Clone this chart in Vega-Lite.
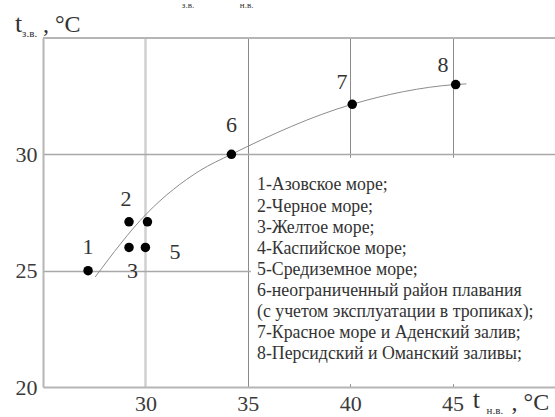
{
  "$schema": "https://vega.github.io/schema/vega-lite/v6.json",
  "width": 512,
  "height": 349,
  "autosize": {"type": "none"},
  "padding": {"left": 43, "top": 38, "right": 0, "bottom": 30},
  "background": "white",
  "config": {
    "view": {"stroke": null},
    "font": "Liberation Serif",
    "text": {"font": "Liberation Serif"}
  },
  "datasets": {
    "curve": [
      {"x": 27.55, "y": 24.73},
      {"x": 30.06, "y": 27.45},
      {"x": 32.66, "y": 29.3},
      {"x": 34.2, "y": 30.0},
      {"x": 40.09, "y": 32.15},
      {"x": 45.13, "y": 33.0},
      {"x": 45.67, "y": 33.03}
    ],
    "points": [
      {"id": 1, "x": 27.2, "y": 25.0},
      {"id": 2, "x": 29.2, "y": 27.1},
      {"id": 4, "x": 30.1, "y": 27.1},
      {"id": 3, "x": 29.2, "y": 26.0},
      {"id": 5, "x": 30.0, "y": 26.0},
      {"id": 6, "x": 34.2, "y": 30.0},
      {"id": 7, "x": 40.1, "y": 32.15},
      {"id": 8, "x": 45.15, "y": 33.0}
    ],
    "labels": [
      {"label": "1", "x": 27.2, "y": 26.0},
      {"label": "2", "x": 29.05, "y": 28.1},
      {"label": "3", "x": 29.37, "y": 25.0},
      {"label": "5", "x": 31.44, "y": 25.8},
      {"label": "6", "x": 34.2, "y": 31.24},
      {"label": "7", "x": 39.6, "y": 33.1},
      {"label": "8", "x": 44.53, "y": 33.82}
    ],
    "legend": [
      {"text": "1-Азовское море;\n2-Черное море;\n3-Желтое море;\n4-Каспийское море;\n5-Средиземное море;\n6-неограниченный район плавания\n(с учетом эксплуатации в тропиках);\n7-Красное море и Аденский залив;\n8-Персидский и Оманский заливы;"}
    ],
    "one": [{}]
  },
  "layer": [
    {
      "data": {"name": "curve"},
      "mark": {"type": "line", "color": "#8c8c8c", "strokeWidth": 1, "interpolate": "monotone"},
      "encoding": {
        "x": {
          "field": "x", "type": "quantitative",
          "scale": {"domain": [25, 50], "nice": false, "zero": false},
          "axis": {
            "title": null,
            "values": [30, 35, 40, 45],
            "labelFont": "Liberation Serif",
            "labelFontSize": 22,
            "labelColor": "#3a3a3a",
            "ticks": false,
            "tickSize": 0,
            "domainColor": "#b5b5b5",
            "domainWidth": 2,
            "labelBaseline": "alphabetic",
            "labelPadding": 23,
            "grid": true,
            "gridColor": {"condition": {"test": "datum.value === 30", "value": "#d0d0d0"}, "value": "#8a8a8a"},
            "gridWidth": {"condition": {"test": "datum.value === 30", "value": 2.5}, "value": 1}
          }
        },
        "y": {
          "field": "y", "type": "quantitative",
          "scale": {"domain": [20, 35], "nice": false, "zero": false},
          "axis": {
            "title": null,
            "values": [20, 25, 30],
            "labelFont": "Liberation Serif",
            "labelFontSize": 22,
            "labelColor": "#3a3a3a",
            "ticks": false,
            "tickSize": 0,
            "domainColor": "#b5b5b5",
            "domainWidth": 2,
            "labelBaseline": "middle",
            "labelPadding": 6,
            "grid": true,
            "gridColor": "#a8a8a8",
            "gridWidth": 1.5,
            "gridOpacity": {"condition": {"test": "datum.value === 20", "value": 0}, "value": 1}
          }
        }
      }
    },
    {
      "data": {"name": "one"},
      "mark": {"type": "rect", "fill": "white"},
      "encoding": {
        "x": {"datum": 35.15, "type": "quantitative"},
        "x2": {"datum": 50},
        "y": {"datum": 20.12, "type": "quantitative"},
        "y2": {"datum": 29.85}
      }
    },
    {
      "data": {"name": "one"},
      "mark": {"type": "rule", "color": "#b5b5b5", "strokeWidth": 2},
      "encoding": {
        "y": {"datum": 35, "type": "quantitative"}
      }
    },
    {
      "data": {"name": "points"},
      "mark": {"type": "point", "filled": true, "color": "black", "opacity": 1, "size": 90},
      "encoding": {
        "x": {"field": "x", "type": "quantitative"},
        "y": {"field": "y", "type": "quantitative"}
      }
    },
    {
      "data": {"name": "labels"},
      "mark": {"type": "text", "fontSize": 22, "color": "#333333", "baseline": "middle", "align": "center"},
      "encoding": {
        "x": {"field": "x", "type": "quantitative"},
        "y": {"field": "y", "type": "quantitative"},
        "text": {"field": "label"}
      }
    },
    {
      "data": {"name": "legend"},
      "mark": {"type": "text", "fontSize": 17.8, "color": "#333333", "baseline": "top", "align": "left", "lineBreak": "\n", "lineHeight": 21.1},
      "encoding": {
        "x": {"datum": 35.45, "type": "quantitative"},
        "y": {"datum": 29.05, "type": "quantitative"},
        "text": {"field": "text"}
      }
    },
    {
      "data": {"name": "one"},
      "mark": {"type": "text", "fontSize": 26, "color": "#333333", "baseline": "alphabetic", "align": "left", "text": "t", "clip": false},
      "encoding": {
        "x": {"datum": 23.63, "type": "quantitative"},
        "y": {"datum": 35.24, "type": "quantitative"}
      }
    },
    {
      "data": {"name": "one"},
      "mark": {"type": "text", "fontSize": 11, "color": "#333333", "baseline": "alphabetic", "align": "left", "text": "з.в.", "clip": false},
      "encoding": {
        "x": {"datum": 23.98, "type": "quantitative"},
        "y": {"datum": 35.03, "type": "quantitative"}
      }
    },
    {
      "data": {"name": "one"},
      "mark": {"type": "text", "fontSize": 24, "color": "#333333", "baseline": "alphabetic", "align": "left", "text": ", °C", "clip": false},
      "encoding": {
        "x": {"datum": 25.0, "type": "quantitative"},
        "y": {"datum": 35.24, "type": "quantitative"}
      }
    },
    {
      "data": {"name": "one"},
      "mark": {"type": "text", "fontSize": 26, "color": "#333333", "baseline": "alphabetic", "align": "left", "text": "t", "clip": false},
      "encoding": {
        "x": {"datum": 45.98, "type": "quantitative"},
        "y": {"datum": 19.1, "type": "quantitative"}
      }
    },
    {
      "data": {"name": "one"},
      "mark": {"type": "text", "fontSize": 11, "color": "#333333", "baseline": "alphabetic", "align": "left", "text": "н.в.", "clip": false},
      "encoding": {
        "x": {"datum": 46.66, "type": "quantitative"},
        "y": {"datum": 18.84, "type": "quantitative"}
      }
    },
    {
      "data": {"name": "one"},
      "mark": {"type": "text", "fontSize": 24, "color": "#333333", "baseline": "alphabetic", "align": "left", "text": ", °C", "clip": false},
      "encoding": {
        "x": {"datum": 47.88, "type": "quantitative"},
        "y": {"datum": 19.01, "type": "quantitative"}
      }
    },
    {
      "data": {"name": "one"},
      "mark": {"type": "text", "fontSize": 9, "color": "#333333", "baseline": "alphabetic", "align": "left", "text": "з.в.", "clip": false},
      "encoding": {
        "x": {"datum": 31.78, "type": "quantitative"},
        "y": {"datum": 36.3, "type": "quantitative"}
      }
    },
    {
      "data": {"name": "one"},
      "mark": {"type": "text", "fontSize": 9, "color": "#333333", "baseline": "alphabetic", "align": "left", "text": "н.в.", "clip": false},
      "encoding": {
        "x": {"datum": 34.61, "type": "quantitative"},
        "y": {"datum": 36.3, "type": "quantitative"}
      }
    }
  ]
}
